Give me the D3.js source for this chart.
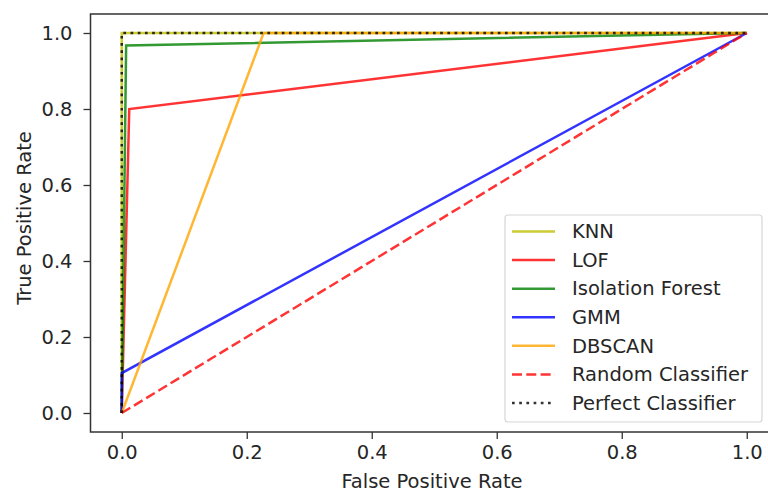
<!DOCTYPE html>
<html>
<head>
<meta charset="utf-8">
<script src="https://cdn.jsdelivr.net/npm/d3@7"></script>
<style>
  body { margin: 0; background: #fff; }
  text { font-family: "DejaVu Sans", sans-serif; fill: #262626; }
</style>
</head>
<body>
<div id="chart"></div>
<script>
// ROC curves
const seriesNames = ['KNN', 'LOF', 'Isolation Forest', 'GMM', 'DBSCAN', 'Random Classifier', 'Perfect Classifier'];
const knnPts = [[0, 0], [0, 1], [1, 1]];
const lofPts = [[0, 0], [0.012, 0.80], [1, 1]];
const isoPts = [[0, 0], [0.007, 0.967], [1, 1]];
const gmmPts = [[0, 0], [0, 0.105], [1, 1]];
const dbscanPts = [[0, 0], [0.227, 1], [1, 1]];
const randomPts = [[0, 0], [1, 1]];
const perfectPts = [[0, 0], [0, 1], [1, 1]];
const tickValues = [0, 0.2, 0.4, 0.6, 0.8, 1.0];

const width = 768;
const height = 492;
const fontSize = '19.5px';
const xLabel = 'False Positive Rate';
const yLabel = 'True Positive Rate';

const series = [
  {name: seriesNames[0], pts: knnPts, color: 'rgba(191,191,0,0.8)', dash: null},
  {name: seriesNames[1], pts: lofPts, color: 'rgba(255,0,0,0.8)', dash: null},
  {name: seriesNames[2], pts: isoPts, color: 'rgba(0,128,0,0.8)', dash: null},
  {name: seriesNames[3], pts: gmmPts, color: 'rgba(0,0,255,0.8)', dash: null},
  {name: seriesNames[4], pts: dbscanPts, color: 'rgba(255,165,0,0.8)', dash: null},
  {name: seriesNames[5], pts: randomPts, color: 'rgba(255,0,0,0.8)', dash: '10,4.3'},
  {name: seriesNames[6], pts: perfectPts, color: 'rgba(0,0,0,0.8)', dash: '2.7,4.5'}
];

const svg = d3.select('#chart').append('svg')
  .attr('width', width)
  .attr('height', height);

const xScale = d3.scaleLinear().domain([-0.05, 1.05]).range([90.5, 778]);
const yScale = d3.scaleLinear().domain([-0.05, 1.05]).range([432, 14]);

const fmt = d3.format('.1f');
const xAxis = d3.axisBottom(xScale).tickValues(tickValues).tickFormat(fmt)
  .tickSize(7).tickPadding(6);
const yAxis = d3.axisLeft(yScale).tickValues(tickValues).tickFormat(fmt)
  .tickSize(7).tickPadding(11);

const line = d3.line().x(d => xScale(d[0])).y(d => yScale(d[1]));

series.forEach(s => {
  svg.append('path')
    .datum(s.pts)
    .attr('d', line)
    .attr('fill', 'none')
    .attr('stroke', s.color)
    .attr('stroke-width', 2.5)
    .attr('stroke-dasharray', s.dash);
});

// frame
svg.append('rect')
  .attr('x', xScale(-0.05))
  .attr('y', yScale(1.05))
  .attr('width', xScale(1.05) - xScale(-0.05))
  .attr('height', yScale(-0.05) - yScale(1.05))
  .attr('fill', 'none')
  .attr('stroke', '#333')
  .attr('stroke-width', 1.5);

const xAxisG = svg.append('g')
  .attr('transform', `translate(0,${yScale(-0.05)})`)
  .call(xAxis);
const yAxisG = svg.append('g')
  .attr('transform', `translate(${xScale(-0.05)},0)`)
  .call(yAxis);

[xAxisG, yAxisG].forEach(g => {
  g.select('.domain').remove();
  g.selectAll('.tick line').attr('stroke', '#333').attr('stroke-width', 1.3);
  g.selectAll('.tick text').style('font-size', fontSize).attr('fill', '#262626');
});

svg.append('text')
  .attr('x', 432)
  .attr('y', 488)
  .style('text-anchor', 'middle')
  .style('font-size', fontSize)
  .text(xLabel);

svg.append('text')
  .attr('transform', `translate(31,218) rotate(-90)`)
  .style('text-anchor', 'middle')
  .style('font-size', fontSize)
  .text(yLabel);

// legend
const legend = svg.append('g');
legend.append('rect')
  .attr('x', 505).attr('y', 215)
  .attr('width', 257).attr('height', 207)
  .attr('rx', 3)
  .attr('fill', 'rgba(255,255,255,0.8)')
  .attr('stroke', '#d6d6d6')
  .attr('stroke-width', 1.2);

const rowY = d3.scalePoint().domain(seriesNames).range([231.5, 403]);
series.forEach(s => {
  const y = rowY(s.name);
  legend.append('line')
    .attr('x1', 512).attr('x2', 555)
    .attr('y1', y).attr('y2', y)
    .attr('stroke', s.color)
    .attr('stroke-width', 2.5)
    .attr('stroke-dasharray', s.dash);
  legend.append('text')
    .attr('x', 572).attr('y', y)
    .attr('dy', '0.35em')
    .style('font-size', fontSize)
    .text(s.name);
});
</script>
</body>
</html>
